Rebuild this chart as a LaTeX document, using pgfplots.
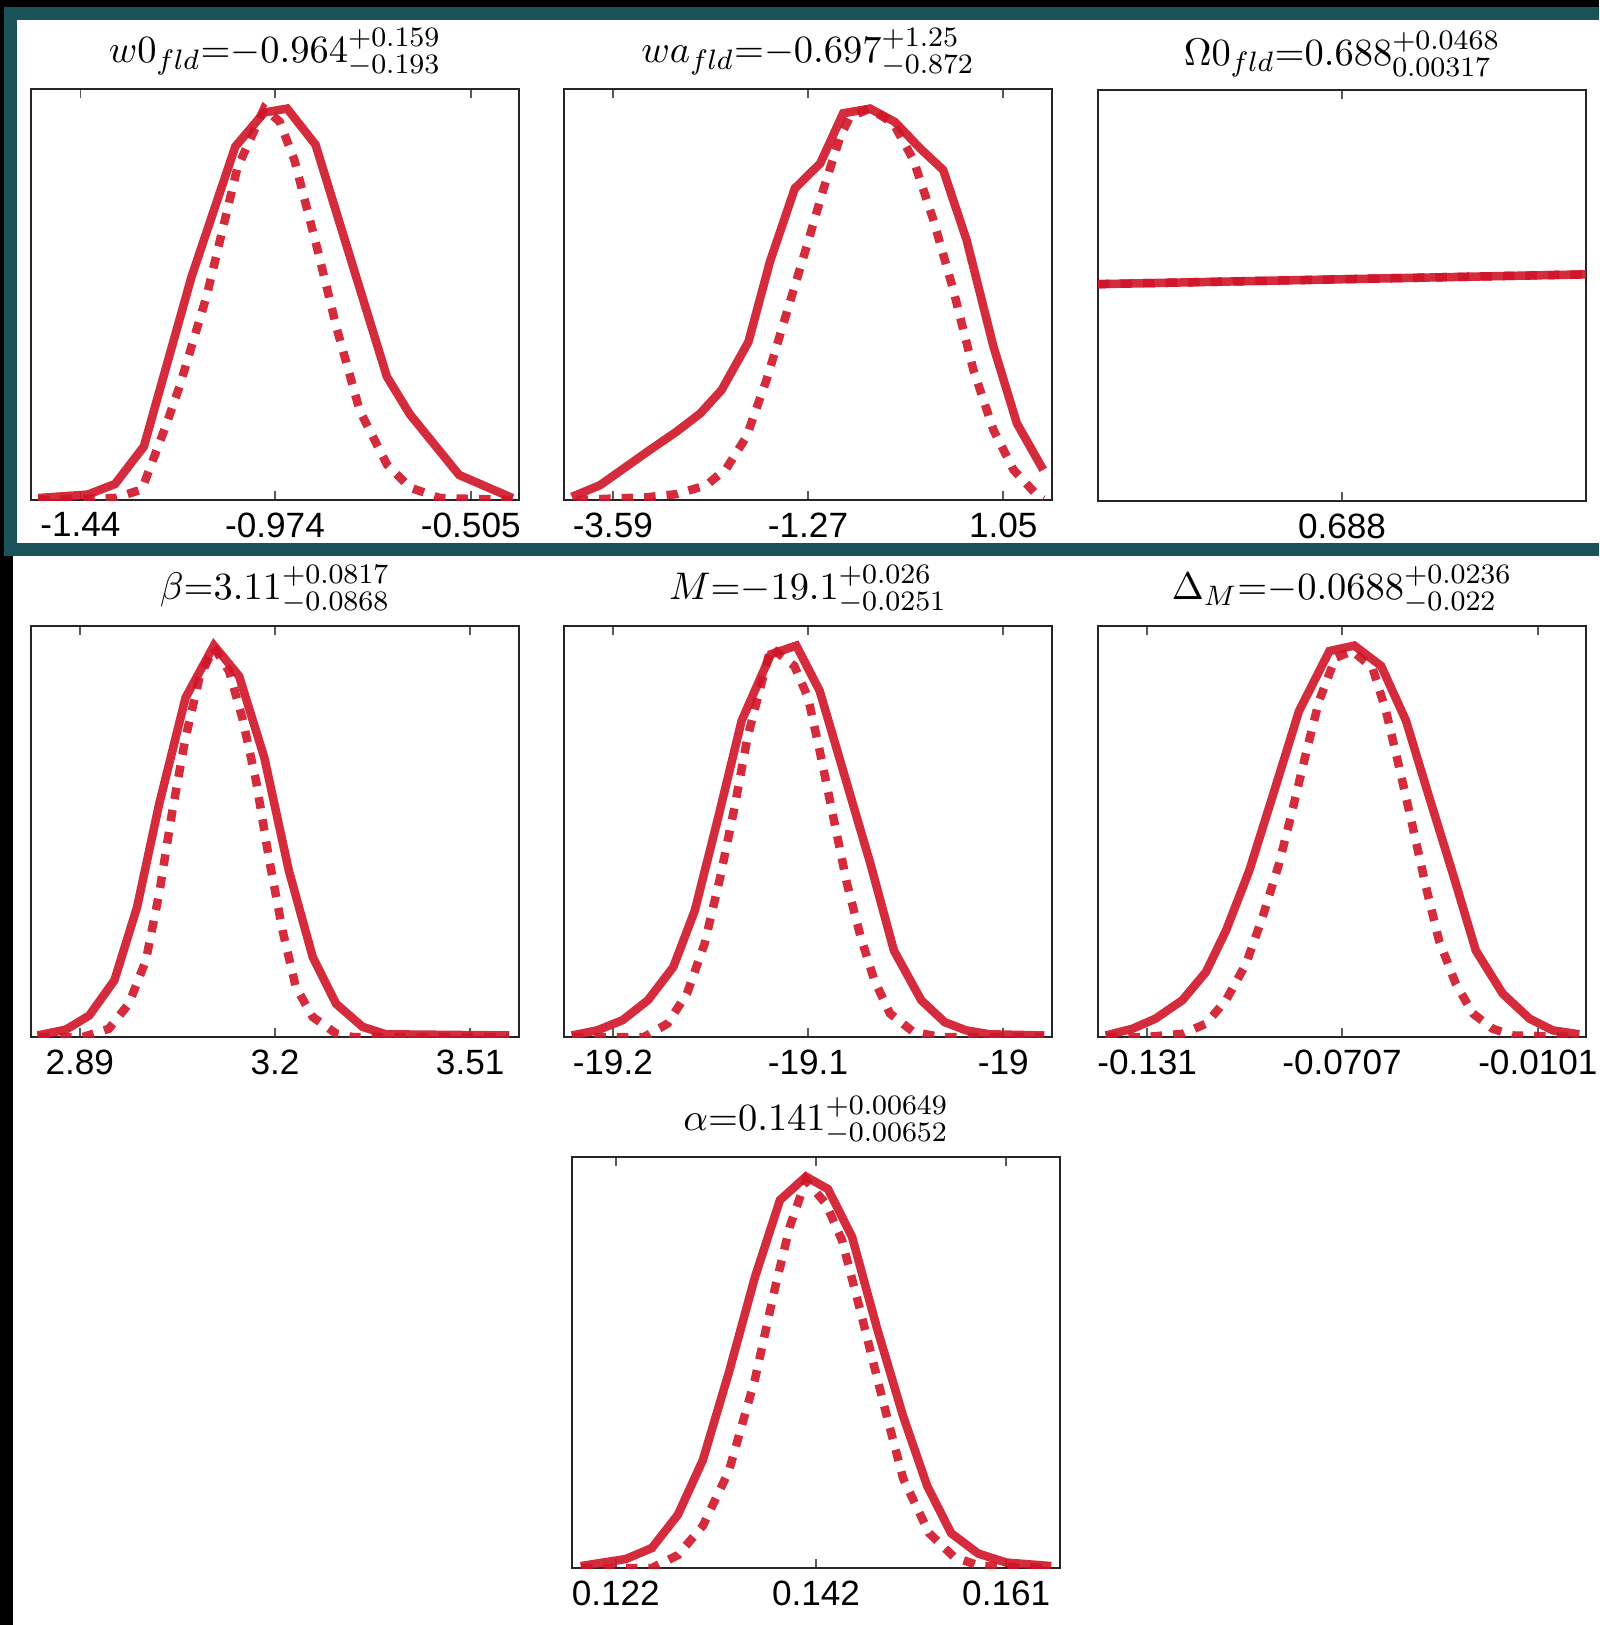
\documentclass[border=0pt]{standalone}
\usepackage{fontspec}
\setmainfont{Liberation Sans}
\usepackage{pgfplots}
\pgfplotsset{compat=1.18}

\definecolor{framecol}{RGB}{26,82,89}
\definecolor{curvecol}{RGB}{208,20,40}

\pgfplotsset{
  panel/.style={
    scale only axis, width=48.8mm, height=41.1mm,
    anchor=south west,
    ymin=0, ymax=1.05, ytick=\empty,
    axis line style={line width=0.25mm, black!85},
    tick align=inside, major tick length=0.9mm,
    every tick/.style={line width=0.15mm, black!65},
    xticklabel style={font=\fontsize{10}{12}\selectfont, inner sep=0pt, yshift=-1.2mm},
    every axis title/.style={at={(0.5,1)}, anchor=south, inner sep=0pt,
      yshift=1.2mm, font=\fontsize{11}{13}\selectfont},
  },
  full/.style={curvecol, opacity=0.9, line width=0.85mm, line join=miter, mark=none},
  dots/.style={full, dash pattern=on 1.15mm off 1.1mm},
}

\begin{document}
\begin{tikzpicture}
\useasboundingbox (0,0) rectangle (159.9mm,-162.5mm);
% screenshot frame
\fill[black] (0,0) rectangle (159.9mm,-162.5mm);
\fill[framecol] (0.4mm,-0.7mm) rectangle (159.9mm,-55.6mm);
\fill[white] (1.7mm,-2.0mm) rectangle (159.9mm,-54.3mm);
\fill[white] (1.3mm,-55.6mm) rectangle (159.9mm,-162.5mm);

% w0
\begin{axis}[panel, at={(3.1mm,-50.0mm)},
  xmin=-1.5584, xmax=-0.3896,
  xtick={-1.44,-0.974,-0.505}, xticklabels={-1.44,-0.974,-0.505},
  title={$w0_{fld}{=}{-}0.964^{+0.159}_{-0.193}$}]
\addplot[full] coordinates {(-1.541,0.005) (-1.422,0.014) (-1.357,0.041) (-1.288,0.137)
  (-1.174,0.570) (-1.069,0.903) (-1.000,0.990) (-0.945,1.000) (-0.877,0.908)
  (-0.706,0.315) (-0.651,0.219) (-0.533,0.064) (-0.405,0.005)};
\addplot[dots] coordinates {(-1.541,0) (-1.357,0.005) (-1.293,0.027) (-1.238,0.182)
  (-1.202,0.292) (-1.138,0.520) (-1.064,0.849) (-1.000,1.000) (-0.963,0.967)
  (-0.927,0.867) (-0.872,0.639) (-0.826,0.438) (-0.771,0.228) (-0.706,0.091)
  (-0.651,0.032) (-0.579,0.005) (-0.405,0)};
\end{axis}

% wa
\begin{axis}[panel, at={(56.4mm,-50.0mm)},
  xmin=-4.17, xmax=1.63,
  xtick={-3.59,-1.27,1.05}, xticklabels={-3.59,-1.27,1.05},
  title={$wa_{fld}{=}{-}0.697^{+1.25}_{-0.872}$}]
\addplot[full] coordinates {(-4.077,0.008) (-3.741,0.038) (-3.149,0.128) (-2.830,0.175)
  (-2.552,0.221) (-2.297,0.281) (-1.978,0.404) (-1.722,0.609) (-1.427,0.796)
  (-1.125,0.860) (-0.852,0.988) (-0.533,1.000) (-0.238,0.966) (0.064,0.898)
  (0.337,0.843) (0.615,0.664) (0.934,0.392) (1.212,0.196) (1.526,0.077)};
\addplot[dots] coordinates {(-4.019,0) (-3.190,0.007) (-2.830,0.015) (-2.476,0.038)
  (-2.239,0.081) (-2.001,0.162) (-1.763,0.307) (-1.525,0.477) (-1.287,0.647)
  (-1.090,0.792) (-0.887,0.928) (-0.771,0.979) (-0.533,1.000) (-0.255,0.962)
  (-0.017,0.869) (0.221,0.715) (0.458,0.536) (0.696,0.332) (0.934,0.179)
  (1.172,0.077) (1.450,0.013) (1.526,0.002)};
\end{axis}

% Omega0
\begin{axis}[panel, at={(109.8mm,-50.1mm)},
  xmin=0.6875, xmax=0.6885,
  xtick={0.688}, xticklabels={0.688},
  title={$\Omega0_{fld}{=}0.688^{+0.0468}_{0.00317}$}]
\addplot[full] coordinates {(0.6875,0.554) (0.6885,0.579)};
\addplot[dots] coordinates {(0.6875,0.554) (0.6885,0.579)};
\end{axis}

% beta
\begin{axis}[panel, at={(3.1mm,-103.7mm)},
  xmin=2.8125, xmax=3.5875,
  xtick={2.89,3.2,3.51}, xticklabels={2.89,3.2,3.51},
  title={$\beta{=}3.11^{+0.0817}_{-0.0868}$}]
\addplot[full] coordinates {(2.823,0.004) (2.868,0.019) (2.905,0.055) (2.945,0.145)
  (2.981,0.332) (3.016,0.595) (3.058,0.867) (3.103,1.000) (3.143,0.922)
  (3.183,0.714) (3.222,0.425) (3.260,0.204) (3.297,0.085) (3.339,0.026)
  (3.376,0.007) (3.572,0.004)};
\addplot[dots] coordinates {(2.823,0) (2.895,0) (2.936,0.021) (2.968,0.085)
  (2.995,0.196) (3.016,0.366) (3.037,0.578) (3.058,0.765) (3.080,0.918)
  (3.103,0.995) (3.127,0.935) (3.148,0.816) (3.170,0.654) (3.191,0.451)
  (3.212,0.272) (3.233,0.128) (3.260,0.051) (3.297,0.009) (3.323,0) (3.572,0)};
\end{axis}

% M
\begin{axis}[panel, at={(56.4mm,-103.7mm)},
  xmin=-19.225, xmax=-18.975,
  xtick={-19.2,-19.1,-19.0}, xticklabels={-19.2,-19.1,-19},
  title={$M{=}{-}19.1^{+0.026}_{-0.0251}$}]
\addplot[full] coordinates {(-19.221,0.004) (-19.208,0.017) (-19.195,0.043)
  (-19.182,0.094) (-19.169,0.179) (-19.158,0.323) (-19.146,0.561) (-19.134,0.808)
  (-19.119,0.978) (-19.106,1.000) (-19.094,0.884) (-19.080,0.646) (-19.068,0.442)
  (-19.056,0.221) (-19.042,0.094) (-19.030,0.038) (-19.019,0.017) (-19.007,0.007)
  (-18.979,0.004)};
\addplot[dots] coordinates {(-19.221,0) (-19.184,0) (-19.172,0.034) (-19.162,0.111)
  (-19.153,0.238) (-19.145,0.408) (-19.138,0.578) (-19.131,0.765) (-19.124,0.901)
  (-19.119,0.995) (-19.107,0.948) (-19.100,0.867) (-19.094,0.731) (-19.087,0.561)
  (-19.080,0.391) (-19.073,0.255) (-19.066,0.145) (-19.058,0.060) (-19.046,0.013)
  (-19.032,0) (-18.979,0)};
\end{axis}

% Delta_M
\begin{axis}[panel, at={(109.8mm,-103.7mm)},
  xmin=-0.1462, xmax=0.0048,
  xtick={-0.131,-0.0707,-0.0101}, xticklabels={-0.131,-0.0707,-0.0101},
  title={$\Delta_M{=}{-}0.0688^{+0.0236}_{-0.022}$}]
\addplot[full] coordinates {(-0.1438,0.004) (-0.1356,0.021) (-0.1284,0.047)
  (-0.1201,0.094) (-0.1128,0.166) (-0.1066,0.272) (-0.0994,0.425) (-0.0923,0.612)
  (-0.0840,0.833) (-0.0746,0.986) (-0.0669,1.000) (-0.0586,0.948) (-0.0509,0.808)
  (-0.0437,0.612) (-0.0364,0.417) (-0.0293,0.221) (-0.0210,0.111) (-0.0127,0.047)
  (-0.0055,0.017) (0.0027,0.007)};
\addplot[dots] coordinates {(-0.1438,0) (-0.1314,0) (-0.1201,0.008) (-0.1128,0.034)
  (-0.1066,0.094) (-0.1004,0.187) (-0.0953,0.306) (-0.0902,0.442) (-0.0861,0.578)
  (-0.0819,0.723) (-0.0778,0.859) (-0.0727,0.969) (-0.0675,0.986) (-0.0613,0.944)
  (-0.0571,0.833) (-0.0530,0.689) (-0.0488,0.536) (-0.0447,0.383) (-0.0407,0.247)
  (-0.0355,0.136) (-0.0302,0.060) (-0.0240,0.021) (-0.0179,0.004) (0.0027,0)};
\end{axis}

% alpha
\begin{axis}[panel, at={(57.2mm,-156.8mm)},
  xmin=0.117625, xmax=0.166375,
  xtick={0.122,0.142,0.161}, xticklabels={0.122,0.142,0.161},
  title={$\alpha{=}0.141^{+0.00649}_{-0.00652}$}]
\addplot[full] coordinates {(0.1185,0.005) (0.1230,0.023) (0.1256,0.051) (0.1282,0.136)
  (0.1307,0.276) (0.1333,0.500) (0.1359,0.743) (0.1384,0.940) (0.1410,1.000)
  (0.1432,0.968) (0.1456,0.846) (0.1481,0.612) (0.1507,0.388) (0.1531,0.210)
  (0.1555,0.089) (0.1582,0.037) (0.1610,0.014) (0.1655,0.005)};
\addplot[dots] coordinates {(0.1185,0) (0.1256,0) (0.1282,0.033) (0.1307,0.108)
  (0.1333,0.248) (0.1359,0.482) (0.1379,0.715) (0.1394,0.874) (0.1410,0.991)
  (0.1430,0.930) (0.1446,0.837) (0.1466,0.640) (0.1487,0.425) (0.1507,0.229)
  (0.1533,0.089) (0.1558,0.028) (0.1584,0.005) (0.1655,0)};
\end{axis}
\end{tikzpicture}
\end{document}
